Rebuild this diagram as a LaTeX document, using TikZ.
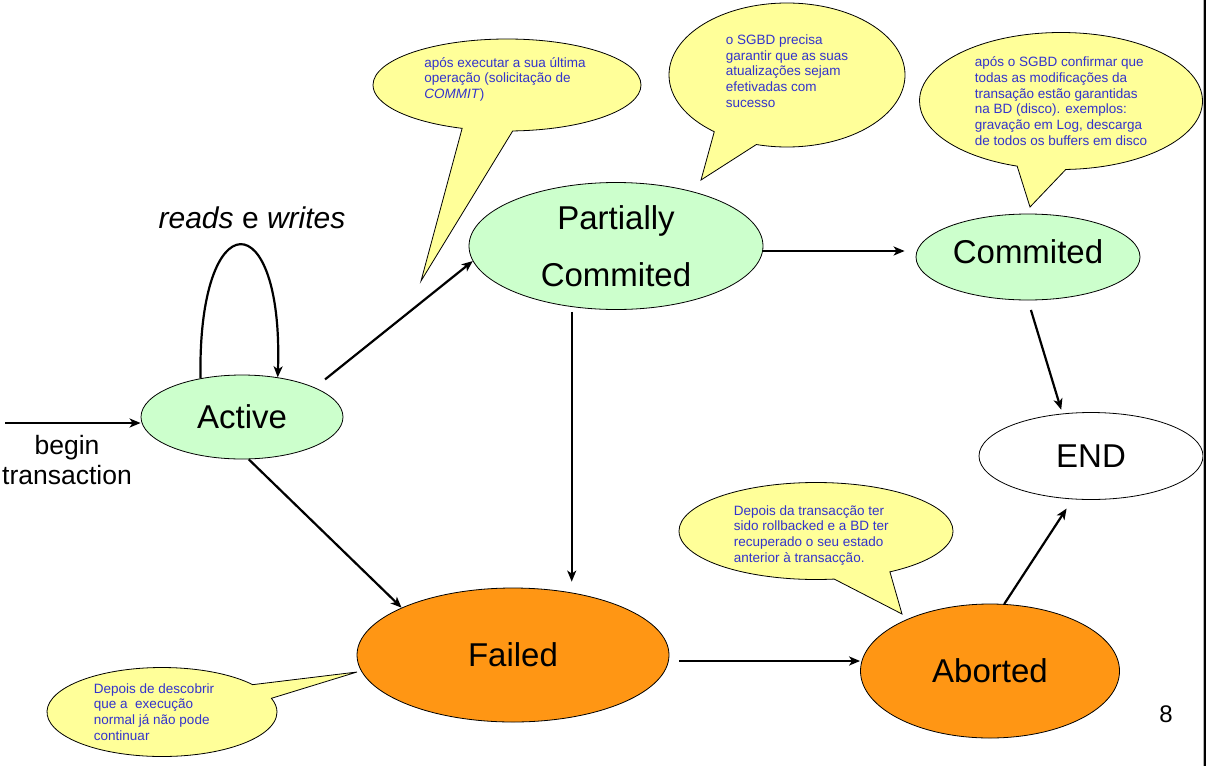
\documentclass[tikz,border=0pt]{standalone}
\usepackage{fontspec}
\setmainfont{Liberation Sans}
\usepackage{tikz}
\usetikzlibrary{arrows.meta,shapes.geometric,shapes.callouts}
\definecolor{stgreen}{RGB}{204,255,204}
\definecolor{storange}{RGB}{255,150,20}
\definecolor{noteyellow}{RGB}{255,255,153}
\definecolor{noteblue}{RGB}{51,51,204}

\begin{document}
\begin{tikzpicture}[x=1pt,y=-1pt,>={Stealth[length=11pt,width=9pt,inset=3pt]},
  stat/.style={ellipse,draw,line width=0.8pt,inner sep=0pt,font=\fontsize{33}{40}\selectfont},
  trans/.style={->,line width=2.2pt},
  note/.style={ellipse callout,draw,line width=0.8pt,fill=noteyellow,inner sep=0pt,align=left,text=noteblue,font=\fontsize{13.5}{15.7}\selectfont}]
  \useasboundingbox (0,0) rectangle (1207,766);

  % states
  \node[stat,fill=stgreen,minimum width=202pt,minimum height=84pt] (act) at (242,417) {Active};
  \node[stat,fill=stgreen,minimum width=294pt,minimum height=127pt,align=center,font=\fontsize{33}{57}\selectfont] (part) at (616,246) {Partially\\Commited};
  \node[stat,fill=stgreen,minimum width=224pt,minimum height=86pt] (comm) at (1028,257) {Commited\rule[-11pt]{0pt}{0pt}};
  \node[stat,fill=white,minimum width=224pt,minimum height=87pt] (fin) at (1091,456) {END};
  \node[stat,fill=storange,minimum width=312pt,minimum height=134pt] (fail) at (513,655) {Failed};
  \node[stat,fill=storange,minimum width=259pt,minimum height=134pt] (abort) at (990,671) {Aborted};

  % labels
  \node[font=\fontsize{30}{36}\selectfont] (rw) at (252,218) {\textit{reads} e \textit{writes}};
  \node[align=center,font=\fontsize{26.5}{30}\selectfont] (bt) at (67,460) {begin\\transaction};
  \node[font=\fontsize{24}{28}\selectfont] (pg) at (1166,714) {8};

  % transitions
  \coordinate (start) at (5,423);
  \draw[trans] (start) -- (start -| act.west);
  \draw[trans] (act.137) .. controls +(-3,-178) and +(6,-176) .. (act.48);
  \draw[trans,shorten <=13pt] (act.22) -- (part.186);
  \draw[trans] (act.-81) -- (fail.157);
  \draw[trans,shorten <=5pt,shorten >=6pt] (part.234) -- (part.234 |- fail.north);
  \coordinate (pc) at ([yshift=-5pt]part.east);
  \draw[trans,shorten >=11pt] (pc) -- (pc -| comm.west);
  \draw[trans,shorten <=10pt,shorten >=4pt] (comm.south) -- (fin.124);
  \coordinate (fa) at ([yshift=-6pt]fail.east);
  \draw[trans,shorten <=10pt] (fa) -- (fa -| abort.west);
  \draw[trans,shorten >=11pt] (abort.78) -- (fin.247);

  % notes
  \coordinate (tipA) at (421,281);
  \coordinate (tipB) at (701,180);
  \coordinate (tipC) at (1030,207);
  \coordinate (tipD) at (902,614);
  \coordinate (tipE) at (357,672);
  \node[note,minimum width=268pt,minimum height=92pt,callout absolute pointer={(tipA)},callout pointer arc=22] (noteA) at (507,85)
    {após executar a sua última\hspace*{4pt}\\operação (solicitação de\\\textit{COMMIT})\rule[-14pt]{0pt}{0pt}};
  \node[note,minimum width=236pt,minimum height=144pt,callout absolute pointer={(tipB)},callout pointer arc=23] (noteB) at (787,75)
    {o SGBD precisa\\garantir que as suas\hspace*{20pt}\\atualizações sejam\\efetivadas com\\sucesso\rule[-8pt]{0pt}{0pt}};
  \node[note,minimum width=283pt,minimum height=137pt,callout absolute pointer={(tipC)},callout pointer arc=20] (noteC) at (1061,101)
    {após o SGBD confirmar que\\todas as modificações da\\transação estão garantidas\hspace*{5pt}\\na BD (disco). exemplos:\\gravação em Log, descarga\\de todos os buffers em disco};
  \node[note,minimum width=274pt,minimum height=97pt,callout absolute pointer={(tipD)},callout pointer arc=25] (noteD) at (816,531)
    {\rule{0pt}{18pt}Depois da transacção ter\hspace*{14pt}\\sido rollbacked e a BD ter\\recuperado o seu estado\\anterior à transacção.};
  \node[note,minimum width=230pt,minimum height=89pt,callout absolute pointer={(tipE)},callout pointer arc=20] (noteE) at (162,712)
    {Depois de descobrir\hspace*{16pt}\\que a~ execução\\normal já não pode\\continuar};

  % slide edge
  \draw[black!30,line width=1pt] (1203.5,0) -- (1203.5,766);
  \draw[line width=1.2pt] (1205,0) -- (1205,766);
\end{tikzpicture}
\end{document}
